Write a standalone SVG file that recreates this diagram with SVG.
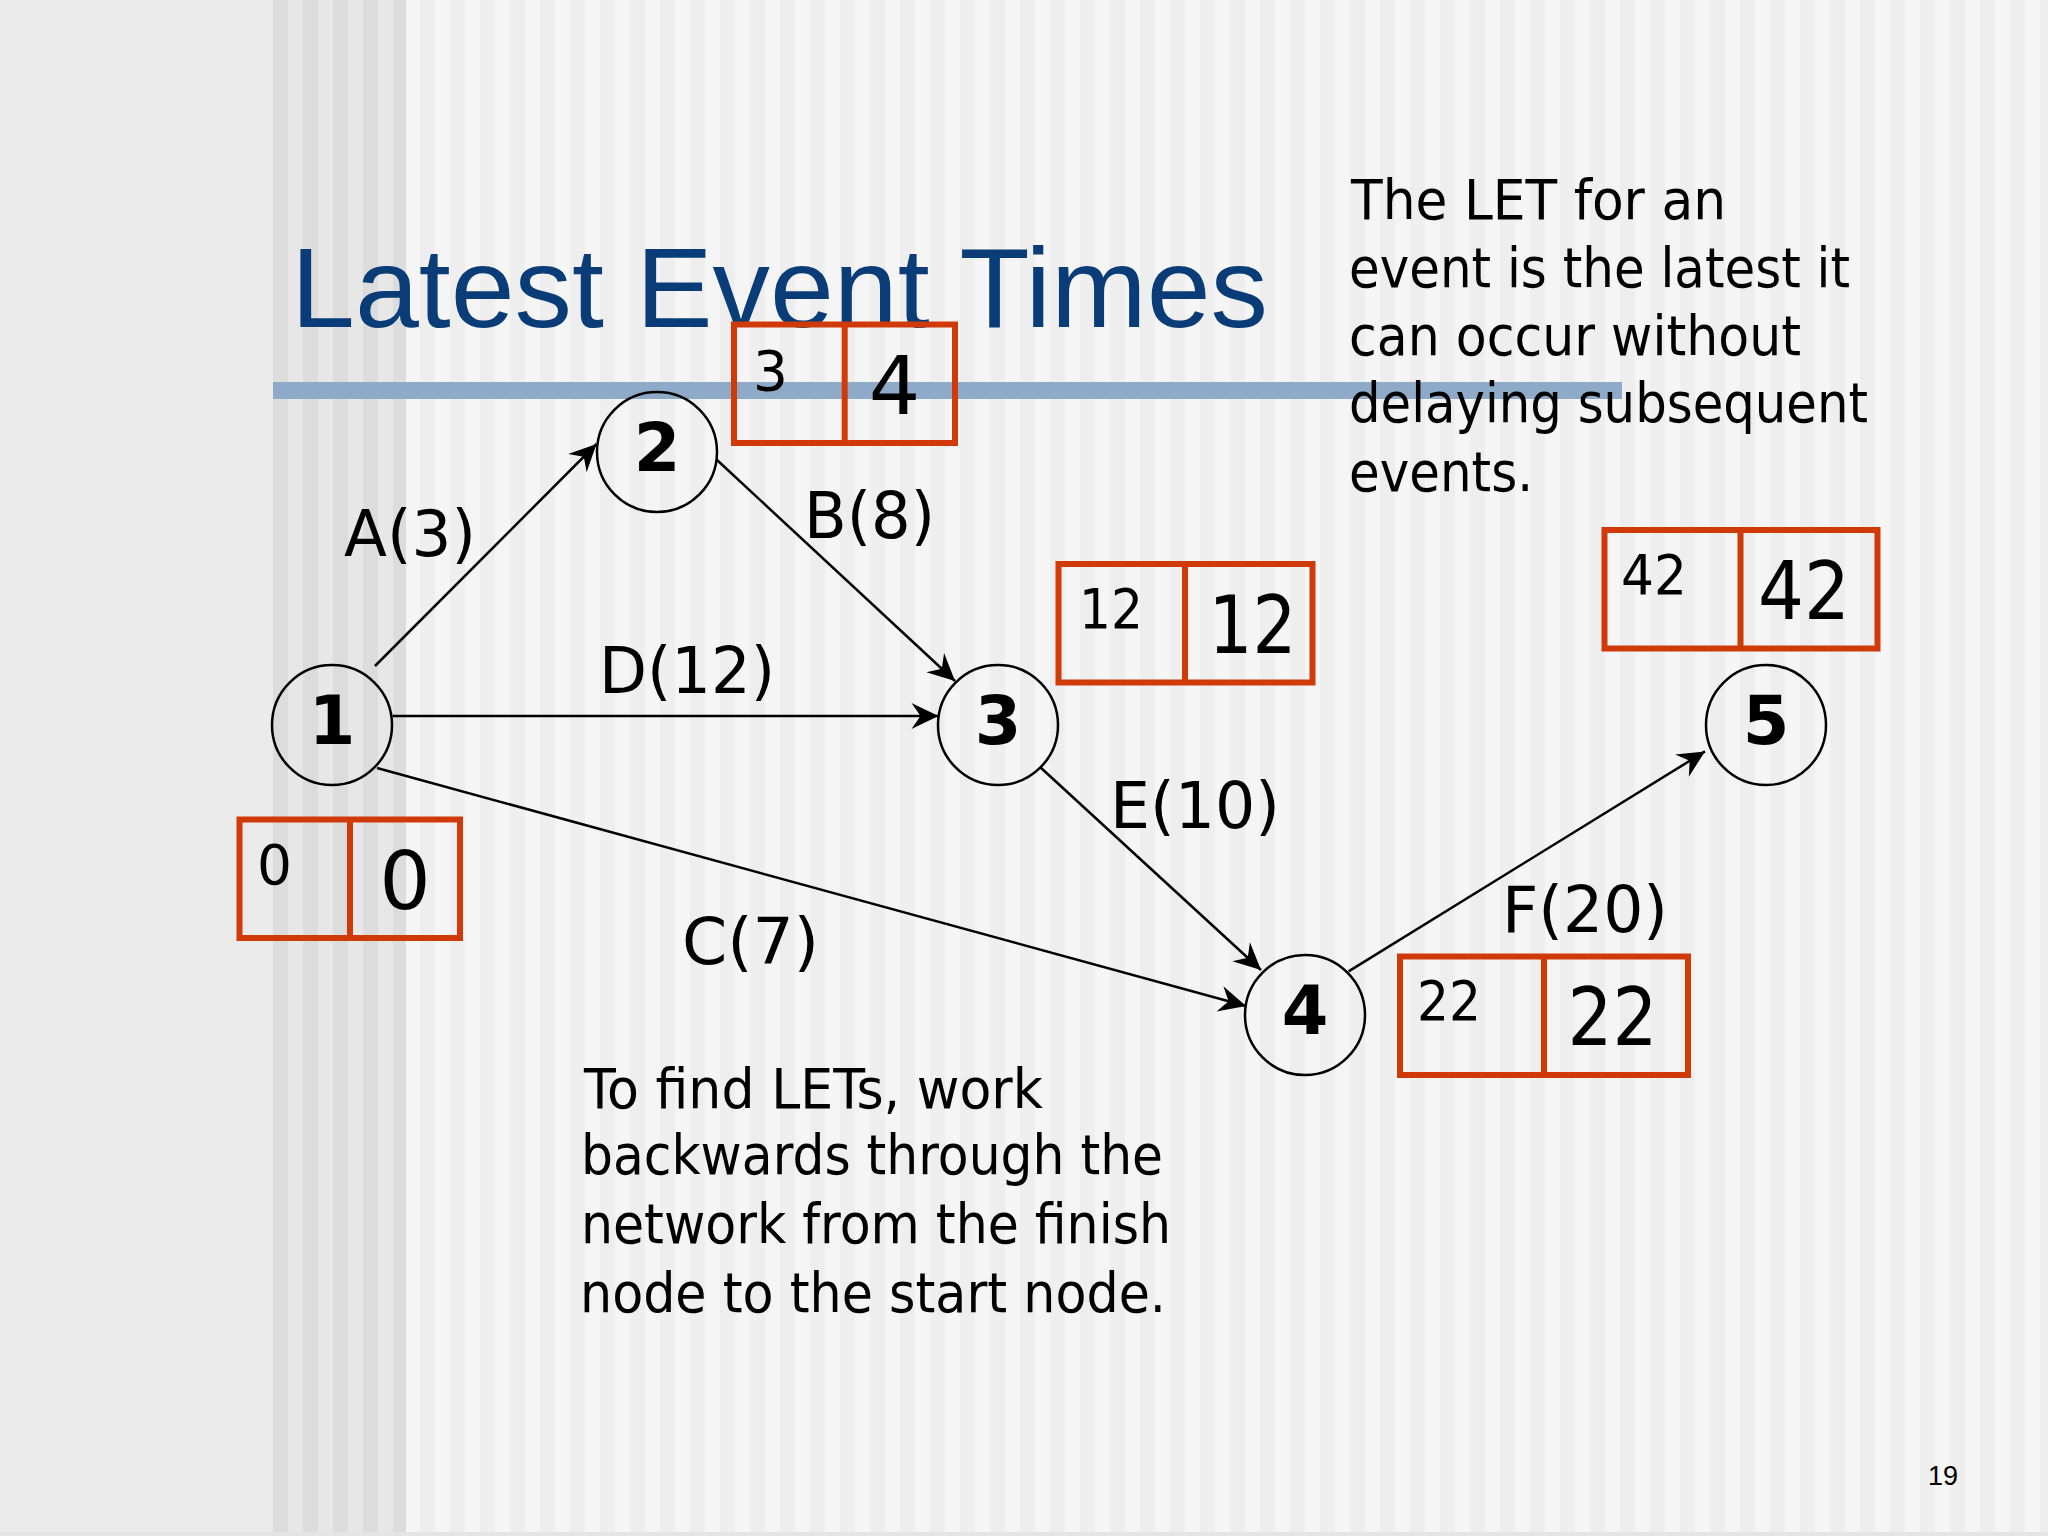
<svg xmlns="http://www.w3.org/2000/svg" width="2048" height="1536" viewBox="0 0 2048 1536">
  <style>
    .node circle { fill: none; stroke: #000; stroke-width: 2.5; }
    .node text { font-family: "DejaVu Sans", Verdana, sans-serif; font-weight: bold; font-size: 67px; text-anchor: middle; fill: #000; }
    .box rect { fill: none; stroke: #cf3a08; stroke-width: 6; }
    .box line { stroke: #cf3a08; stroke-width: 6; }
    .box .s { font-family: "DejaVu Sans", Verdana, sans-serif; font-size: 55px; fill: #000; }
    .box .l { font-family: "DejaVu Sans", Verdana, sans-serif; font-size: 81px; fill: #000; text-anchor: middle; }
    .edges line { stroke: #000; stroke-width: 2.5; marker-end: url(#arrow); }
    .lbl { font-family: "DejaVu Sans", Verdana, sans-serif; font-size: 64px; fill: #000; }
    .para { font-family: "DejaVu Sans", Verdana, sans-serif; font-size: 55px; fill: #000; }
    .title { font-family: "Liberation Sans", Arial, sans-serif; font-size: 114px; fill: #0a3c78; }
  </style>
  <defs>
    <marker id="arrow" markerUnits="userSpaceOnUse" viewBox="-30 -15 32 30" refX="0" refY="0" markerWidth="32" markerHeight="30" orient="auto" overflow="visible">
      <path d="M0,0 L-27,-13 L-18,0 L-27,13 Z" fill="#000"/>
    </marker>
    <pattern id="band" x="273" y="0" width="30" height="10" patternUnits="userSpaceOnUse">
      <rect x="0" y="0" width="30" height="10" fill="#e7e7e7"/>
      <rect x="0" y="0" width="15" height="10" fill="#dcdcdc"/>
    </pattern>
    <pattern id="stripes" x="420" y="0" width="30" height="10" patternUnits="userSpaceOnUse">
      <rect x="0" y="0" width="30" height="10" fill="#f5f5f5"/>
      <rect x="0" y="0" width="15" height="10" fill="#eeeeee"/>
    </pattern>
  </defs>

  <!-- background -->
  <rect x="0" y="0" width="2048" height="1536" fill="#ebebeb"/>
  <rect x="273" y="0" width="133" height="1536" fill="url(#band)"/>
  <rect x="406" y="0" width="1642" height="1536" fill="url(#stripes)"/>
  <rect x="0" y="1532" width="2048" height="4" fill="#e4e4e4"/>

  <!-- title and rule -->
  <text class="title" x="291" y="327" textLength="977" lengthAdjust="spacingAndGlyphs">Latest Event Times</text>
  <rect x="273" y="382" width="1349" height="17" fill="#8fa9c8"/>

  <!-- right explanation -->
  <g id="note-let">
    <text class="para" x="1351" y="219" textLength="375" lengthAdjust="spacingAndGlyphs">The LET for an</text>
    <text class="para" x="1349" y="287" textLength="501" lengthAdjust="spacingAndGlyphs">event is the latest it</text>
    <text class="para" x="1349" y="355" textLength="452" lengthAdjust="spacingAndGlyphs">can occur without</text>
    <text class="para" x="1349" y="422" textLength="519" lengthAdjust="spacingAndGlyphs">delaying subsequent</text>
    <text class="para" x="1349" y="491" textLength="184" lengthAdjust="spacingAndGlyphs">events.</text>
  </g>

  <!-- bottom explanation -->
  <g id="note-method">
    <text class="para" x="584" y="1108" textLength="459" lengthAdjust="spacingAndGlyphs">To find LETs, work</text>
    <text class="para" x="581" y="1174" textLength="582" lengthAdjust="spacingAndGlyphs">backwards through the</text>
    <text class="para" x="581" y="1243" textLength="590" lengthAdjust="spacingAndGlyphs">network from the finish</text>
    <text class="para" x="580" y="1312" textLength="586" lengthAdjust="spacingAndGlyphs">node to the start node.</text>
  </g>

  <!-- connectors -->
  <g id="connectors" class="edges">
    <line id="edge-A" x1="375" y1="666" x2="596.5" y2="444"/>
    <line id="edge-B" x1="717" y1="460" x2="955" y2="681"/>
    <line id="edge-D" x1="392.5" y1="716" x2="938.5" y2="716"/>
    <line id="edge-C" x1="377" y1="768" x2="1246" y2="1006"/>
    <line id="edge-E" x1="1040" y1="767" x2="1261" y2="970"/>
    <line id="edge-F" x1="1348.6" y1="971.4" x2="1705" y2="751.4"/>
  </g>

  <!-- connector labels -->
  <g id="edge-labels">
    <text class="lbl" x="344" y="556" textLength="132" lengthAdjust="spacingAndGlyphs">A(3)</text>
    <text class="lbl" x="804" y="538" textLength="131" lengthAdjust="spacingAndGlyphs">B(8)</text>
    <text class="lbl" x="599" y="693" textLength="176" lengthAdjust="spacingAndGlyphs">D(12)</text>
    <text class="lbl" x="682" y="964" textLength="137" lengthAdjust="spacingAndGlyphs">C(7)</text>
    <text class="lbl" x="1110" y="828" textLength="170" lengthAdjust="spacingAndGlyphs">E(10)</text>
    <text class="lbl" x="1502" y="932" textLength="166" lengthAdjust="spacingAndGlyphs">F(20)</text>
  </g>

  <!-- nodes -->
  <g id="node-1" class="node"><circle cx="332" cy="725" r="60"/><text x="332" y="744">1</text></g>
  <g id="node-2" class="node"><circle cx="657" cy="452" r="60"/><text x="657" y="471">2</text></g>
  <g id="node-3" class="node"><circle cx="998" cy="725" r="60"/><text x="998" y="744">3</text></g>
  <g id="node-4" class="node"><circle cx="1305" cy="1015" r="60"/><text x="1305" y="1034">4</text></g>
  <g id="node-5" class="node"><circle cx="1766" cy="725" r="60"/><text x="1766" y="744">5</text></g>

  <!-- event time boxes -->
  <g id="box-1" class="box">
    <rect x="239.5" y="819.5" width="220.5" height="118.5"/>
    <line x1="350" y1="819.5" x2="350" y2="938"/>
    <text class="s" x="257" y="883.5">0</text>
    <text class="l" x="405" y="908.5">0</text>
  </g>
  <g id="box-2" class="box">
    <rect x="734" y="324.5" width="221" height="118.5"/>
    <line x1="844.7" y1="324.5" x2="844.7" y2="443"/>
    <text class="s" x="753" y="389.5">3</text>
    <text class="l" x="894.5" y="414">4</text>
  </g>
  <g id="box-3" class="box">
    <rect x="1058.5" y="564" width="254" height="118.5"/>
    <line x1="1185" y1="564" x2="1185" y2="682.5"/>
    <text class="s" x="1079" y="627.5" textLength="64" lengthAdjust="spacingAndGlyphs">12</text>
    <text class="l" x="1252.5" y="653" textLength="88" lengthAdjust="spacingAndGlyphs">12</text>
  </g>
  <g id="box-5" class="box">
    <rect x="1604.5" y="530" width="273" height="118.5"/>
    <line x1="1740.5" y1="530" x2="1740.5" y2="648.5"/>
    <text class="s" x="1621" y="593.5" textLength="66" lengthAdjust="spacingAndGlyphs">42</text>
    <text class="l" x="1804" y="618.5" textLength="92" lengthAdjust="spacingAndGlyphs">42</text>
  </g>
  <g id="box-4" class="box">
    <rect x="1400" y="956.5" width="288" height="118.5"/>
    <line x1="1544" y1="956.5" x2="1544" y2="1075"/>
    <text class="s" x="1417" y="1020" textLength="64" lengthAdjust="spacingAndGlyphs">22</text>
    <text class="l" x="1612.5" y="1045" textLength="90" lengthAdjust="spacingAndGlyphs">22</text>
  </g>

  <!-- page number -->
  <text x="1928" y="1485" font-family="Liberation Sans, Arial, sans-serif" font-size="27" fill="#000">19</text>
</svg>
